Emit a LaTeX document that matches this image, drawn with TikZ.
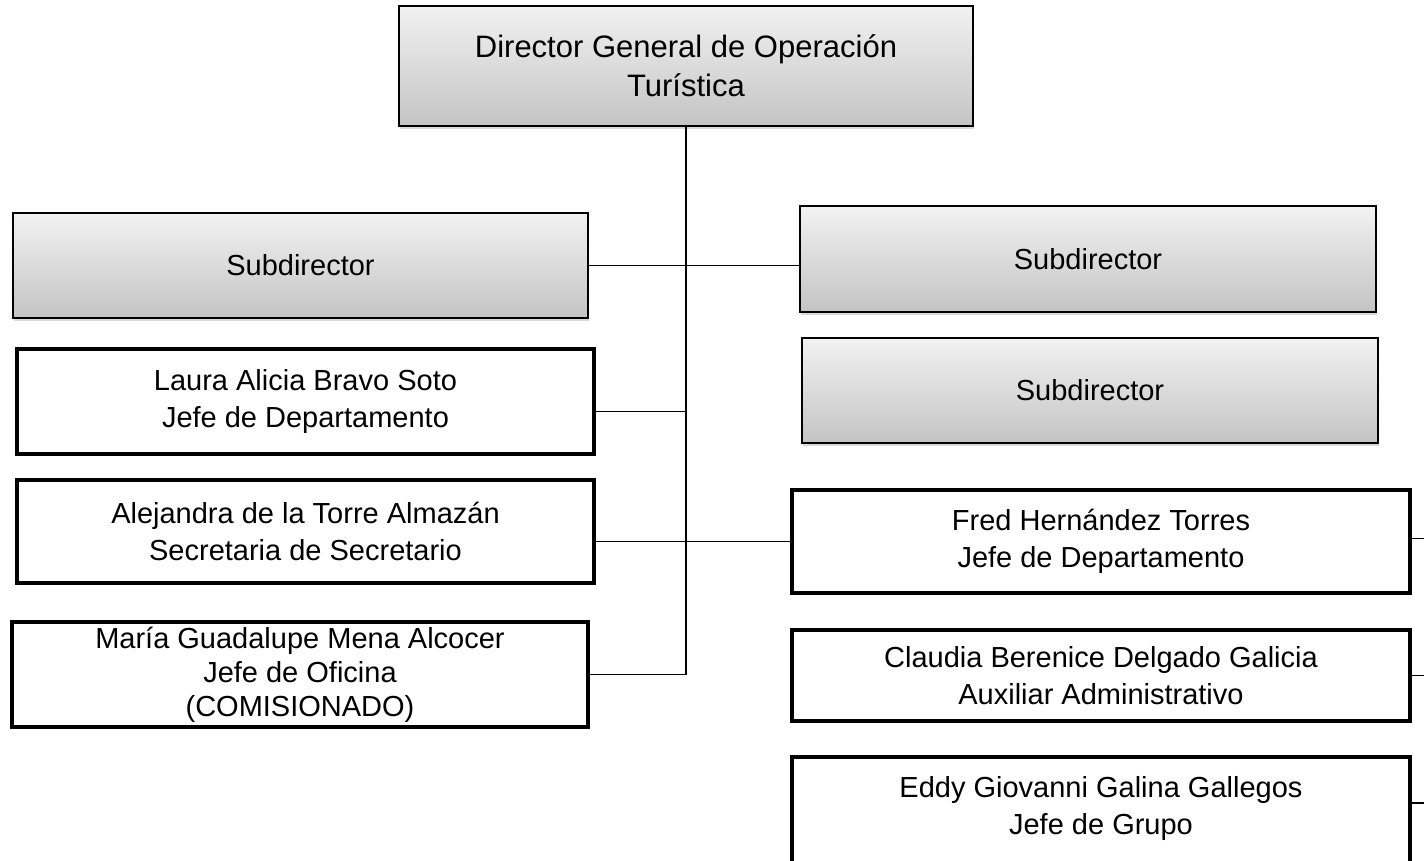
\documentclass[tikz,border=0pt]{standalone}
\usepackage{fontspec}
\setmainfont{Liberation Sans}
\usetikzlibrary{positioning, shadows}
\definecolor{boxtop}{RGB}{242,242,242}
\definecolor{boxbottom}{RGB}{196,196,196}

\begin{document}
\begin{tikzpicture}[on grid,
    subbox/.style={draw, line width=1.6pt, top color=boxtop, bottom color=boxbottom,
      minimum width=575pt, minimum height=105pt, inner sep=0pt, align=center,
      font=\fontsize{29}{37}\selectfont,
      drop shadow={shadow xshift=1pt, shadow yshift=-3pt, opacity=0.3}},
    personbox/.style={draw, line width=4.5pt, fill=white, minimum width=577pt,
      minimum height=104pt, inner sep=0pt, align=center,
      font=\fontsize{29}{37}\selectfont},
    link/.style={line width=1.5pt}]
      \useasboundingbox (-686pt,66pt) rectangle (738pt,-794pt);
      \clip (-686pt,66pt) rectangle (738pt,-794pt);
      \coordinate (edge) at (738pt,0pt);

      \node[subbox, minimum width=574pt, minimum height=120pt, font=\fontsize{31}{39}\selectfont] (dir)
           {Director General de Operación\\Turística};
      \node[subbox] (sub_l) [below left = 199.5pt and 385.5pt of dir] {Subdirector};
      \node[subbox, minimum width=576pt, minimum height=106pt] (sub_r1) [below right = 193pt and 402pt of dir] {Subdirector};
      \node[subbox, minimum width=576pt] (sub_r2) [below right = 131.5pt and 2pt of sub_r1] {Subdirector};

      \node[personbox, minimum height=105pt] (laura) [below right = 136pt and 5pt of sub_l]
           {Laura Alicia Bravo Soto\\Jefe de Departamento};
      \node[personbox, minimum height=103pt] (alejandra) [below = 130pt of laura]
           {Alejandra de la Torre Almazán\\Secretaria de Secretario};
      \node[personbox, minimum width=576pt, minimum height=105pt, font=\fontsize{29}{34}\selectfont] (maria)
           [below left = 143pt and 5.5pt of alejandra]
           {María Guadalupe Mena Alcocer\\Jefe de Oficina\\(COMISIONADO)};

      \node[personbox, minimum width=618pt, minimum height=103pt] (fred) [below right = 151pt and 11pt of sub_r2]
           {Fred Hernández Torres\\Jefe de Departamento};
      \node[personbox, minimum width=618pt, minimum height=91pt] (claudia) [below = 134pt of fred]
           {Claudia Berenice Delgado Galicia\\Auxiliar Administrativo};
      \node[personbox, minimum width=618pt, minimum height=134pt] (eddy) [below = 148.5pt of claudia]
           {Eddy Giovanni Galina Gallegos\\Jefe de Grupo\\\mbox{}};

      \draw[link] (dir.south) -- (dir.south |- maria.east);
      \draw[link] (sub_l.east) -- (sub_l.east -| sub_r1.west);
      \draw[link] ([yshift=-10pt]laura.east) -- ([yshift=-10pt]laura.east -| dir.south);
      \draw[link] (fred.west) -- (fred.west -| alejandra.east);
      \draw[link] (maria.east) -- (maria.east -| dir.south);
      \draw[link] ([yshift=3pt]fred.east) -- ([yshift=3pt]fred.east -| edge);
      \draw[link] (claudia.east) -- (claudia.east -| edge);
      \draw[link] ([yshift=21pt]eddy.east) -- ([yshift=21pt]eddy.east -| edge);
\end{tikzpicture}
\end{document}
